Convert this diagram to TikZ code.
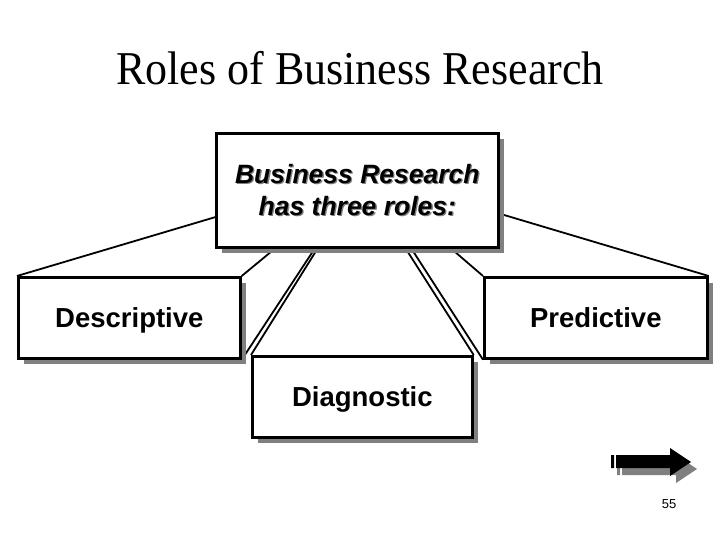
\documentclass[tikz,border=0pt]{standalone}
\usepackage{fontspec}
\setmainfont{Liberation Serif}
\setsansfont{Liberation Sans}
\usetikzlibrary{shadows,calc}
\pgfdeclarelayer{background}
\pgfsetlayers{background,main}
\newcommand{\shadowed}[1]{\makebox[0pt][l]{\kern1.3pt\raisebox{-1.3pt}{\textcolor{gray}{#1}}}#1}

\begin{document}
\begin{tikzpicture}
  [x=1pt,y=-1pt,
   role node/.style={draw,line width=2.7pt,fill=white,anchor=north west,inner sep=0pt,
     drop shadow={shadow xshift=6pt,shadow yshift=-6pt,fill=gray,opacity=1},
     font=\sffamily\bfseries\fontsize{27.5}{30}\selectfont},
   leaf node/.style={role node,minimum height=81pt,text height=20pt,text depth=1pt},
   link/.style={line width=1.8pt}]

\useasboundingbox (0,0) rectangle (720,540);

\node[font=\fontsize{44}{48}\selectfont] (title) at (360,68) {\scalebox{1}[1.07]{Roles of Business Research}};

\node[role node,minimum width=282pt,minimum height=114pt,align=center,
  font=\sffamily\bfseries\itshape\fontsize{26.5}{32}\selectfont] (roles) at (215,132)
  {\shadowed{Business Research}\\\shadowed{has three roles:}};
\node[leaf node,minimum width=222pt] (desc) at (17,276) {Descriptive};
\node[leaf node,minimum width=223pt] (pred) at (483,276) {Predictive};
\node[leaf node,minimum width=220pt] (diag) at (251,355) {Diagnostic};

% links behind the boxes
\begin{pgfonlayer}{background}
\draw[link] (desc.north west) -- ($(roles.south west)!0.27!(roles.north west)$);
\draw[link] (desc.north east) -- ($(roles.south west)!0.21!(roles.south east)$);
\draw[link] (desc.south east) -- ($(roles.south west)!0.35!(roles.south east)$);
\draw[link] (diag.north west) -- ($(roles.south west)!0.36!(roles.south east)$);
\draw[link] (diag.north east) -- ($(roles.south west)!0.67!(roles.south east)$);
\draw[link] (pred.south west) -- ($(roles.south west)!0.69!(roles.south east)$);
\draw[link] (pred.north west) -- ($(roles.south west)!0.83!(roles.south east)$);
\draw[link] (pred.north east) -- ($(roles.south east)!0.30!(roles.north east)$);
\end{pgfonlayer}

% next slide button
\foreach \dx/\dy/\col in {6/7/gray,0/0/black}
  \fill[\col,shift={(\dx,\dy)}] (611,455) rectangle (614,468)
    (616,455) -- (670,455) -- (670,448) -- (691,462) -- (670,476) -- (670,468) -- (616,468) -- cycle;

\node[font=\sffamily\fontsize{13}{14}\selectfont] (page) at (669,504) {55};

\end{tikzpicture}
\end{document}
